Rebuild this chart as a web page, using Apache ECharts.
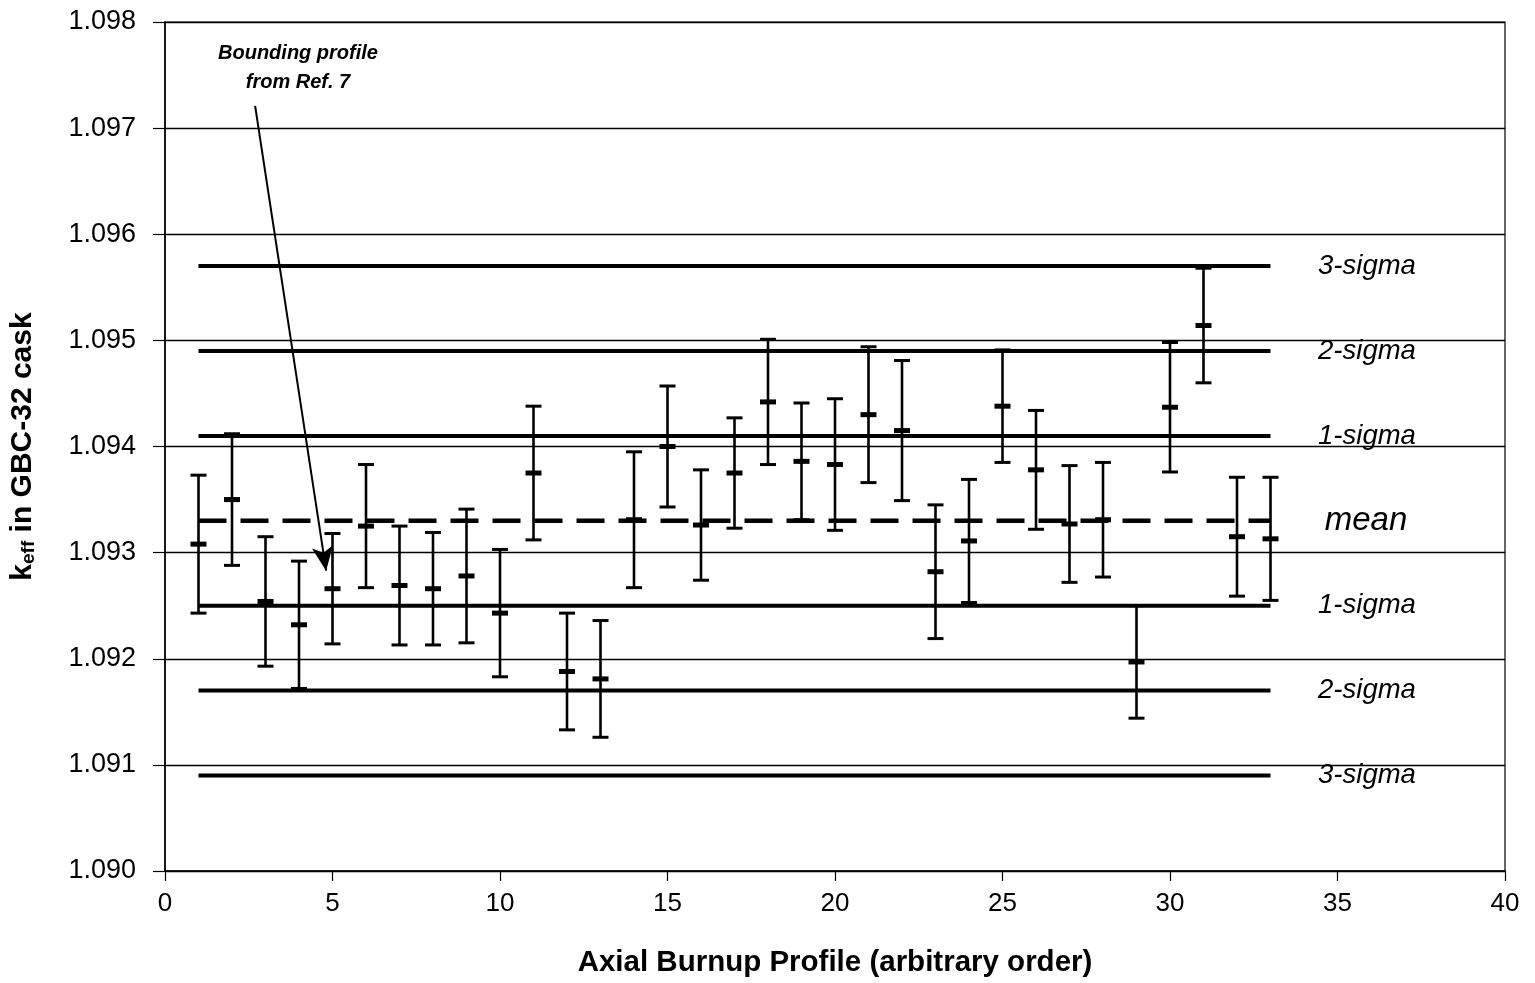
<!DOCTYPE html>
<html><head><meta charset="utf-8">
<script src="https://cdn.jsdelivr.net/npm/echarts@6/dist/echarts.min.js"></script>
<style>html,body{margin:0;padding:0;background:#fff}#c{width:1535px;height:983px}</style>
</head><body><div id="c"></div>
<script>
// ---- data ----
const profiles = [1,2,3,4,5,6,7,8,9,10,11,12,13,14,15,16,17,18,19,20,21,22,23,24,25,26,27,28,29,30,31,32,33];
const keff = [1.09308,1.09350,1.09254,1.09232,1.09266,1.09325,1.09269,1.09266,1.09278,1.09243,
              1.09375,1.09188,1.09181,1.09331,1.09400,1.09326,1.09375,1.09442,1.09386,1.09383,
              1.09430,1.09415,1.09282,1.09311,1.09438,1.09378,1.09327,1.09331,1.09197,1.09437,
              1.09514,1.09315,1.09313];
const keffErr = [0.00065,0.00062,0.00061,0.00060,0.00052,0.00058,0.00056,0.00053,0.00063,0.00060,
                 0.00063,0.00055,0.00055,0.00064,0.00057,0.00052,0.00052,0.00059,0.00055,0.00062,
                 0.00064,0.00066,0.00063,0.00058,0.00053,0.00056,0.00055,0.00054,0.00053,0.00061,
                 0.00054,0.00056,0.00058];
const meanLevel = 1.0933;
const meanLabel = 'mean';
const sigmaLevels = [1.0957, 1.0949, 1.0941, 1.0925, 1.0917, 1.0909];
const sigmaLabels = ['3-sigma', '2-sigma', '1-sigma', '1-sigma', '2-sigma', '3-sigma'];
const yMin = 1.090, yMax = 1.098, yStep = 0.001;
const xMin = 0, xMax = 40, xStep = 5;
const xTitle = 'Axial Burnup Profile (arbitrary order)';
const annotationText = 'Bounding profile\nfrom Ref. 7';
const annotationAt = [3.97, 1.09757];
const arrowFrom = [2.69, 1.09721];
const arrowTo = [4.81, 1.09283];

// ---- chart ----
const FONT = '"Liberation Sans", Arial, sans-serif';
const chart = echarts.init(document.getElementById('c'), null, {renderer: 'canvas'});
const x0 = profiles[0], x1 = profiles[profiles.length - 1];
const labelX = x1 + 1.42;

const series = [];
sigmaLevels.forEach(function (lv) {
  series.push({
    type: 'line', data: [[x0, lv], [x1, lv]], symbol: 'none', silent: true,
    lineStyle: {color: '#000', width: 4}, z: 2
  });
});
series.push({
  type: 'line', data: [[x0, meanLevel], [x1, meanLevel]], symbol: 'none', silent: true,
  lineStyle: {color: '#000', width: 4.5, type: [28, 14]}, z: 2
});
// level labels
series.push({
  type: 'scatter', symbolSize: 0, silent: true, z: 5,
  itemStyle: {opacity: 1},
  data: sigmaLevels.map(function (lv, i) { return {value: [labelX, lv], name: sigmaLabels[i]}; })
    .concat([{value: [labelX + 0.2, meanLevel], name: meanLabel,
              label: {fontSize: 33}}]),
  label: {
    show: true, position: 'right', distance: 0, formatter: function (p) { return p.name; },
    fontFamily: FONT, fontStyle: 'italic', fontSize: 27.5, color: '#000'
  }
});
// error bars
series.push({
  type: 'custom', z: 4,
  data: profiles.map(function (p, i) { return [p, keff[i] - keffErr[i], keff[i] + keffErr[i]]; }),
  encode: {x: 0, y: [1, 2]},
  renderItem: function (params, api) {
    const x = api.value(0);
    const lo = api.coord([x, api.value(1)]);
    const hi = api.coord([x, api.value(2)]);
    const hw = 8;
    return {
      type: 'group', children: [
        {type: 'line', shape: {x1: lo[0], y1: lo[1], x2: hi[0], y2: hi[1]}, style: {stroke: '#000', lineWidth: 2.6}},
        {type: 'line', shape: {x1: lo[0] - hw, y1: lo[1], x2: lo[0] + hw, y2: lo[1]}, style: {stroke: '#000', lineWidth: 3}},
        {type: 'line', shape: {x1: hi[0] - hw, y1: hi[1], x2: hi[0] + hw, y2: hi[1]}, style: {stroke: '#000', lineWidth: 3}}
      ]
    };
  }
});
// central values
series.push({
  type: 'scatter', z: 6, symbol: 'rect', symbolSize: [16, 5],
  itemStyle: {color: '#000', opacity: 1},
  data: profiles.map(function (p, i) { return [p, keff[i]]; })
});
// annotation text + arrow
series.push({
  type: 'scatter', symbolSize: 0, silent: true, z: 7,
  itemStyle: {opacity: 1},
  data: [annotationAt],
  label: {
    show: true, position: 'inside', formatter: annotationText,
    fontFamily: FONT, fontStyle: 'italic', fontWeight: 'bold', fontSize: 20,
    lineHeight: 29, color: '#000', align: 'center', verticalAlign: 'middle'
  },
  markLine: {
    silent: true, animation: false,
    symbol: ['none', 'arrow'], symbolSize: [16, 24],
    label: {show: false},
    lineStyle: {color: '#000', width: 2, type: 'solid', opacity: 1},
    data: [[{coord: arrowFrom}, {coord: arrowTo}]]
  }
});

chart.setOption({
  animation: false,
  backgroundColor: '#fff',
  grid: {left: 162, right: 30, top: 22, bottom: 111, show: true, borderColor: '#000', borderWidth: 1.2, backgroundColor: 'transparent'},
  xAxis: {
    type: 'value', min: xMin, max: xMax, interval: xStep,
    name: xTitle, nameLocation: 'middle', nameGap: 77,
    nameTextStyle: {fontFamily: FONT, fontWeight: 'bold', fontSize: 29.5, color: '#000'},
    axisLine: {lineStyle: {color: '#000', width: 1.5}},
    axisTick: {show: true, length: 10, lineStyle: {color: '#000', width: 1.2}},
    axisLabel: {margin: 20, fontFamily: FONT, fontSize: 26, color: '#000'},
    splitLine: {show: false}
  },
  yAxis: {
    type: 'value', min: yMin, max: yMax, interval: yStep,
    name: '{k|k}{s|eff}{n| in GBC-32 cask}', nameLocation: 'middle', nameGap: 127, nameRotate: 90,
    nameTextStyle: {
      fontFamily: FONT, fontWeight: 'bold', fontSize: 30, color: '#000',
      rich: {
        k: {fontFamily: FONT, fontWeight: 'bold', fontSize: 30, color: '#000', verticalAlign: 'bottom'},
        s: {fontFamily: FONT, fontWeight: 'bold', fontSize: 19, color: '#000', verticalAlign: 'bottom'},
        n: {fontFamily: FONT, fontWeight: 'bold', fontSize: 30, color: '#000', verticalAlign: 'bottom'}
      }
    },
    axisLine: {show: true, lineStyle: {color: '#000', width: 1.5}},
    axisTick: {show: true, length: 12, lineStyle: {color: '#000', width: 1.2}},
    axisLabel: {margin: 29, fontFamily: FONT, fontSize: 27, color: '#000',
                formatter: function (v) { return v.toFixed(3); }},
    splitLine: {show: true, lineStyle: {color: '#000', width: 1.4}}
  },
  series: series
});
</script>
</body></html>
